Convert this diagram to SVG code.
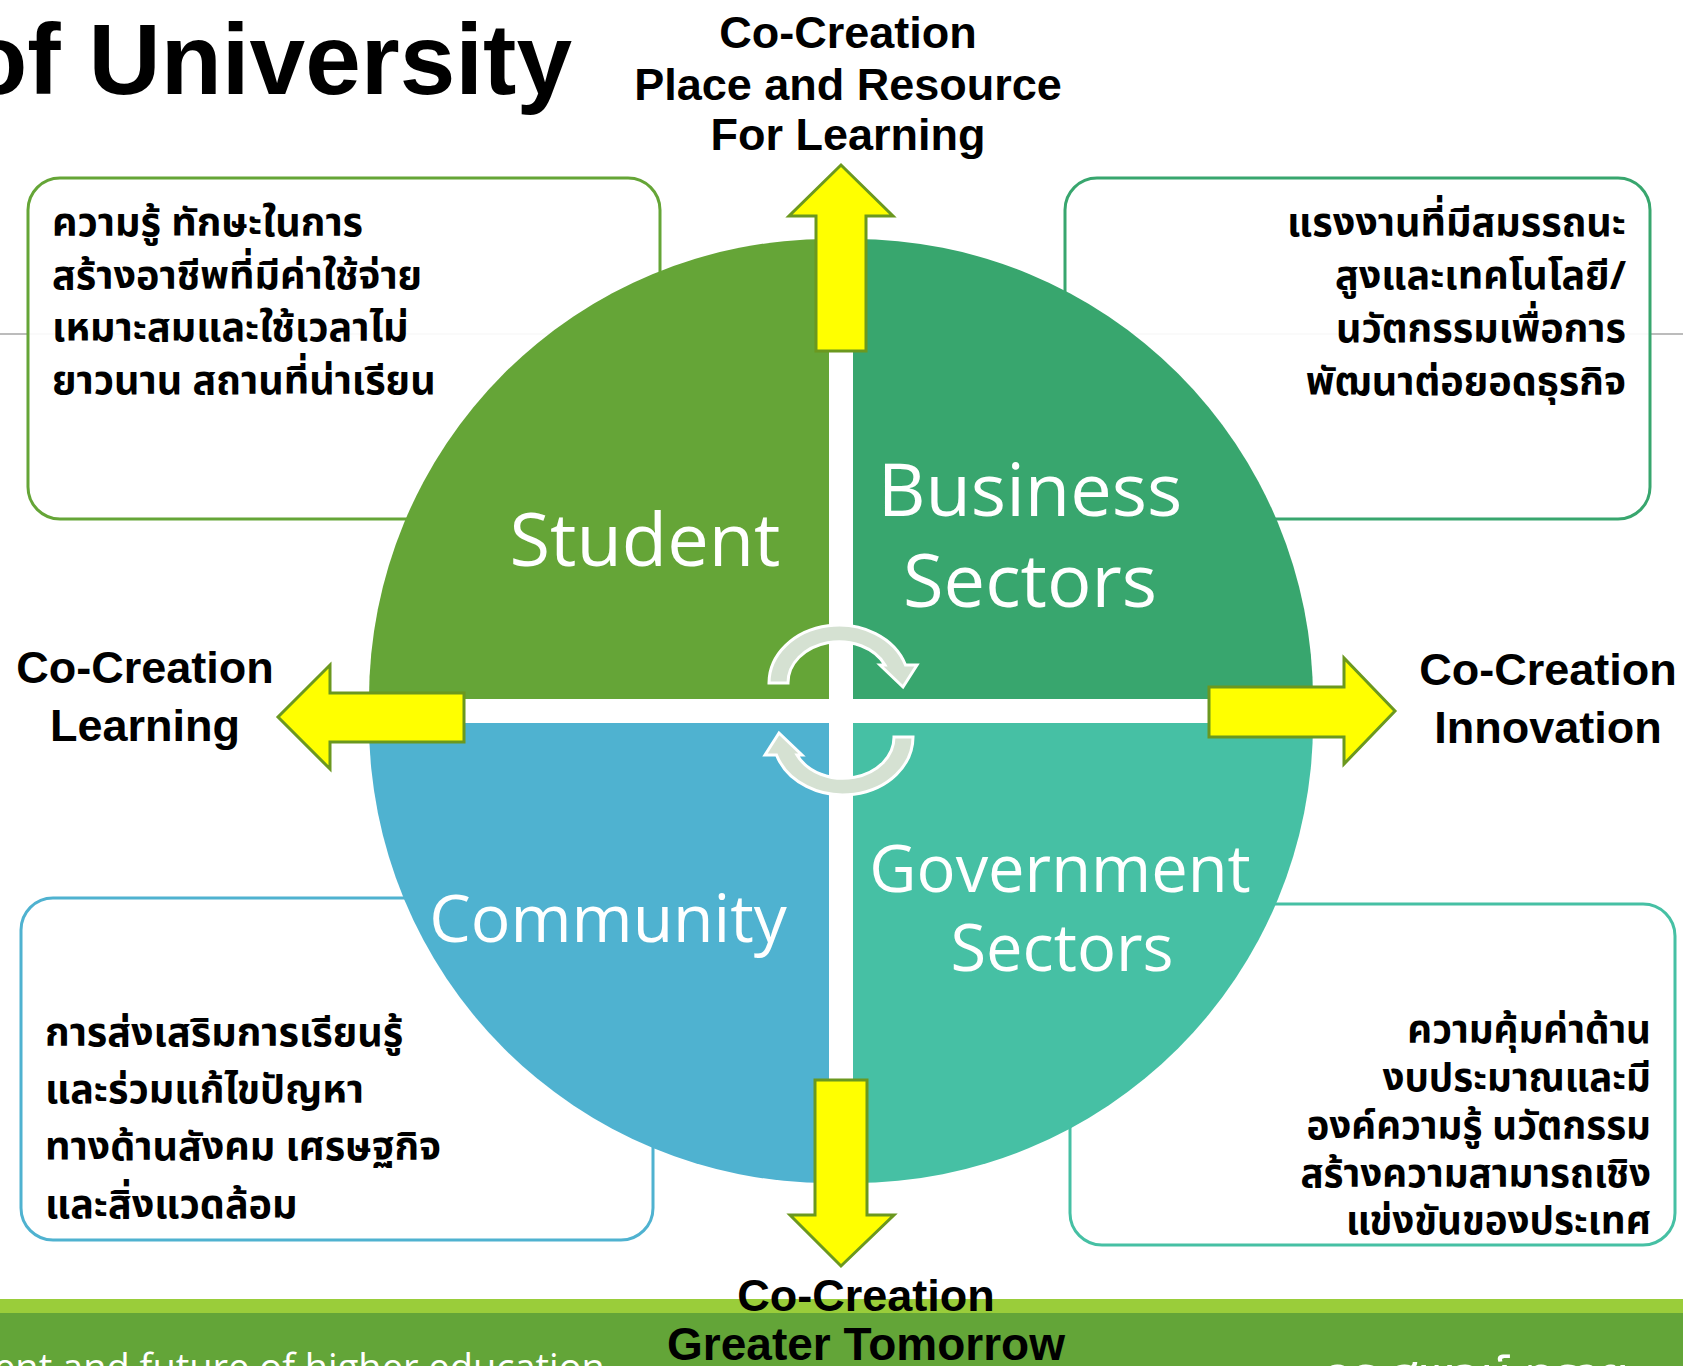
<svg xmlns="http://www.w3.org/2000/svg" width="1683" height="1366" viewBox="0 0 1683 1366">
<style>
.box{fill:#ffffff;fill-opacity:0.92;stroke-width:3}
.th{font-family:"Noto Sans Thai","Noto Sans","DejaVu Sans",sans-serif;font-size:39.5px;font-weight:bold;fill:#000}
.ql{font-family:"Open Sans","Noto Sans",sans-serif;font-size:74px;fill:#ffffff;text-anchor:middle}
.cc{font-family:"Liberation Sans",Arial,sans-serif;font-size:45px;font-weight:bold;fill:#000;text-anchor:middle}
.arr{fill:#ffff00;stroke:#6b981f;stroke-width:3;stroke-linejoin:miter}
.cyc{fill:#d5e1d2;stroke:#ffffff;stroke-width:3;stroke-linejoin:miter}
</style>
<rect x="0" y="0" width="1683" height="1366" fill="#ffffff"/>
<line x1="0" y1="334" x2="1683" y2="334" stroke="#a6a6a6" stroke-width="1.5"/>
<text x="572" y="94" font-family="Liberation Sans, Arial, sans-serif" font-size="100" font-weight="bold" text-anchor="end" fill="#000">of University</text>

<g id="box-student">
<rect class="box" x="28" y="178" width="632" height="341" rx="32" stroke="#65a537"/>
<text class="th" x="52"><tspan x="52" y="236">ความรู้ ทักษะในการ</tspan><tspan x="52" y="289">สร้างอาชีพที่มีค่าใช้จ่าย</tspan><tspan x="52" y="341">เหมาะสมและใช้เวลาไม่</tspan><tspan x="52" y="394">ยาวนาน สถานที่น่าเรียน</tspan></text>
</g>
<g id="box-business">
<rect class="box" x="1065" y="178" width="585" height="341" rx="32" stroke="#38a66e"/>
<text class="th" text-anchor="end"><tspan x="1626" y="236">แรงงานที่มีสมรรถนะ</tspan><tspan x="1626" y="289">สูงและเทคโนโลยี/</tspan><tspan x="1626" y="342">นวัตกรรมเพื่อการ</tspan><tspan x="1626" y="395">พัฒนาต่อยอดธุรกิจ</tspan></text>
</g>
<g id="box-community">
<rect class="box" x="21" y="898" width="632" height="342" rx="32" stroke="#4fb2d0"/>
<text class="th"><tspan x="45" y="1046">การส่งเสริมการเรียนรู้</tspan><tspan x="45" y="1103">และร่วมแก้ไขปัญหา</tspan><tspan x="45" y="1160">ทางด้านสังคม เศรษฐกิจ</tspan><tspan x="45" y="1218">และสิ่งแวดล้อม</tspan></text>
</g>
<g id="box-government">
<rect class="box" x="1070" y="904" width="605" height="341" rx="32" stroke="#46c0a4"/>
<text class="th" text-anchor="end" style="font-size:38.5px"><tspan x="1651" y="1043">ความคุ้มค่าด้าน</tspan><tspan x="1651" y="1091">งบประมาณและมี</tspan><tspan x="1651" y="1139">องค์ความรู้ นวัตกรรม</tspan><tspan x="1651" y="1187">สร้างความสามารถเชิง</tspan><tspan x="1651" y="1234">แข่งขันของประเทศ</tspan></text>
</g>

<g id="student">
<path d="M829 699 L369 699 A460 460 0 0 1 829 239 Z" fill="#65a537"/>
<text class="ql" x="645" y="566">Student</text>
</g>
<g id="business">
<path d="M853 699 L853 239 A460 460 0 0 1 1313 699 Z" fill="#38a66e"/>
<text class="ql" font-size="73"><tspan x="1030" y="516">Business</tspan><tspan x="1030" y="607">Sectors</tspan></text>
</g>
<g id="government">
<path d="M853 723 L1313 723 A460 460 0 0 1 853 1183 Z" fill="#46c0a4"/>
<text class="ql" style="font-size:65px"><tspan x="1060" y="892">Government</tspan><tspan x="1062" y="971">Sectors</tspan></text>
</g>
<g id="community">
<path d="M829 723 L829 1183 A460 460 0 0 1 369 723 Z" fill="#4fb2d0"/>
<text class="ql" style="font-size:66px" x="608" y="942">Community</text>
</g>

<g id="connectors">
<polygon class="arr" points="816,351 816,216 789,216 841,165 893,216 866,216 866,351"/>
<polygon class="arr" points="464,693 330,693 330,665 278,717 330,769 330,742 464,742"/>
<polygon class="arr" points="1209,687 1344,687 1344,658 1395,711 1344,764 1344,737 1209,737"/>
<polygon class="arr" points="815,1080 867,1080 867,1215 894,1215 841,1266 790,1215 815,1215"/>
<path id="cycle-top" class="cyc" d="M769 683 A70 58 0 0 1 905.5 665 L917 665 L903 687 L880 665 L885 665 A51 41 0 0 0 788 683 Z"/>
<path class="cyc" transform="rotate(180 841 710)" d="M769 683 A70 58 0 0 1 905.5 665 L917 665 L903 687 L880 665 L885 665 A51 41 0 0 0 788 683 Z"/>
</g>

<g id="label-top"><text class="cc"><tspan x="848" y="48">Co-Creation</tspan><tspan x="848" y="100">Place and Resource</tspan><tspan x="848" y="150">For Learning</tspan></text></g>
<g id="label-left"><text class="cc"><tspan x="145" y="683">Co-Creation</tspan><tspan x="145" y="741">Learning</tspan></text></g>
<g id="label-right"><text class="cc"><tspan x="1548" y="685">Co-Creation</tspan><tspan x="1548" y="743">Innovation</tspan></text></g>

<rect x="0" y="1299" width="1683" height="14" fill="#9acd3a"/>
<rect x="0" y="1313" width="1683" height="53" fill="#63a538"/>
<text x="-6" y="1381" font-family="Open Sans, sans-serif" font-size="38" fill="#ffffff">ent and future of higher education</text>
<text x="1322" y="1392" font-family="Noto Sans Thai, Noto Sans, sans-serif" font-size="50" fill="#ffffff">ดร.สุพจน์ ทราย</text>
<g id="label-bottom"><text class="cc"><tspan x="866" y="1311">Co-Creation</tspan><tspan x="866" y="1360" style="font-size:46px">Greater Tomorrow</tspan></text></g>
</svg>
